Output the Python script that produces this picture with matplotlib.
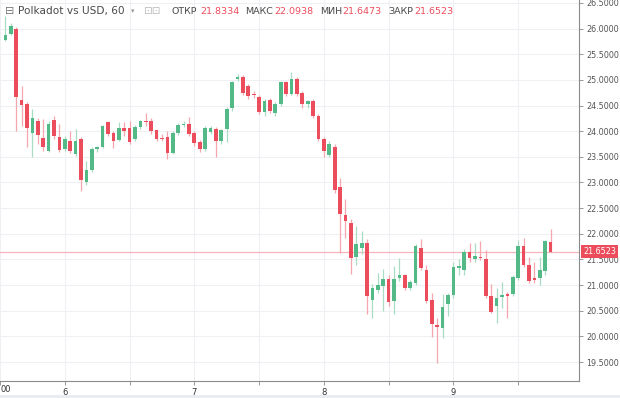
import numpy as np
import matplotlib.pyplot as plt
from matplotlib.patches import Rectangle

# ---------------------------------------------------------------------------
# Hourly candles, DOT/USD (hour offsets from day "6" 00:00)
# ---------------------------------------------------------------------------
hours = list(range(-11, 91))

opens = [25.78, 25.90, 26.00, 24.60, 24.54, 23.97, 24.20, 23.87, 23.62, 24.22,
         23.89, 23.66, 23.81, 23.56, 23.85, 23.00, 23.25, 23.66, 23.70, 24.17,
         23.96, 23.83, 24.07, 24.07, 23.85, 24.09, 24.20, 24.20, 24.02, 23.87,
         23.88, 23.58, 23.96, 24.12, 24.14, 23.96, 23.79, 23.65, 23.99, 24.05,
         23.80, 24.04, 24.46, 25.01, 25.06, 24.89, 24.72, 24.66, 24.37, 24.61,
         24.35, 24.53, 24.95, 24.72, 25.02, 24.74, 24.53, 24.59, 24.30, 23.85,
         23.54, 23.70, 22.91, 22.37, 22.22, 21.55, 21.73, 21.82, 20.70, 20.90,
         20.98, 21.11, 20.68, 21.13, 21.19, 20.94, 21.05, 21.73, 21.29, 20.70,
         20.23, 20.17, 20.64, 20.80, 21.33, 21.29, 21.64, 21.50, 21.55, 21.51,
         20.79, 20.59, 20.77, 20.82, 20.82, 21.14, 21.77, 21.40, 21.13, 21.13,
         21.28, 21.8334]
highs = [26.25, 26.10, 26.03, 24.88, 24.56, 24.44, 24.25, 24.24, 24.20, 24.30,
         24.14, 23.90, 24.00, 24.05, 23.88, 23.42, 23.70, 23.72, 24.12, 24.20,
         24.00, 24.17, 24.17, 24.20, 24.12, 24.22, 24.35, 24.25, 24.05, 23.95,
         24.00, 24.00, 24.16, 24.20, 24.27, 24.00, 23.83, 24.10, 24.10, 24.08,
         24.05, 24.48, 24.97, 25.12, 25.10, 24.92, 24.78, 24.70, 24.62, 24.65,
         24.56, 24.97, 24.98, 25.15, 25.06, 24.78, 24.60, 24.62, 24.33, 23.88,
         23.80, 23.75, 23.08, 22.67, 22.28, 22.15, 22.05, 21.90, 21.02, 21.24,
         21.31, 21.20, 21.37, 21.53, 21.22, 21.10, 21.80, 21.89, 21.40, 20.85,
         20.35, 20.82, 20.85, 21.45, 21.50, 21.70, 21.83, 21.83, 21.86, 21.68,
         21.02, 20.95, 21.06, 20.86, 21.20, 21.88, 21.91, 21.55, 21.45, 21.55,
         21.88, 22.0938]
lows = [25.75, 25.88, 24.00, 24.10, 23.70, 23.50, 23.75, 23.62, 23.60, 23.85,
        23.60, 23.62, 23.58, 23.52, 22.84, 22.95, 23.20, 23.60, 23.68, 23.90,
        23.67, 23.80, 23.90, 23.75, 23.80, 24.05, 24.10, 23.95, 23.80, 23.80,
        23.46, 23.55, 23.92, 24.08, 23.90, 23.72, 23.60, 23.62, 23.95, 23.49,
        23.75, 23.78, 24.40, 24.98, 24.70, 24.62, 24.65, 24.33, 24.30, 24.36,
        24.30, 24.50, 24.68, 24.70, 24.68, 24.45, 24.45, 24.25, 23.80, 23.49,
        23.50, 22.80, 21.63, 21.92, 21.21, 21.40, 21.60, 20.43, 20.36, 20.85,
        20.49, 20.60, 20.43, 21.08, 20.90, 20.90, 21.00, 21.30, 20.65, 19.99,
        19.48, 19.97, 20.40, 20.75, 21.20, 21.20, 21.45, 21.45, 21.48, 20.75,
        20.45, 20.26, 20.55, 20.36, 20.78, 21.10, 21.35, 21.04, 21.05, 21.00,
        21.20, 21.6473]
closes = [25.88, 26.05, 24.66, 24.52, 24.06, 24.26, 23.93, 23.70, 24.14, 23.91,
          23.64, 23.85, 23.62, 23.80, 23.05, 23.25, 23.66, 23.69, 24.10, 23.94,
          23.81, 24.06, 24.00, 23.78, 24.09, 24.19, 24.17, 24.00, 23.85, 23.84,
          23.58, 23.96, 24.12, 24.15, 23.94, 23.77, 23.65, 24.07, 24.07, 23.81,
          24.02, 24.44, 24.95, 25.06, 24.74, 24.68, 24.70, 24.37, 24.59, 24.40,
          24.54, 24.95, 24.72, 25.02, 24.72, 24.54, 24.58, 24.30, 23.85, 23.62,
          23.75, 22.85, 22.39, 22.25, 21.53, 21.80, 21.82, 20.79, 20.95, 21.00,
          21.11, 20.67, 21.11, 21.19, 20.94, 21.06, 21.76, 21.34, 20.69, 20.24,
          20.18, 20.57, 20.80, 21.35, 21.37, 21.65, 21.52, 21.57, 21.52, 20.79,
          20.48, 20.75, 20.80, 20.79, 21.15, 21.77, 21.40, 21.08, 21.09, 21.29,
          21.85, 21.6523]

price_ticks = [19.5, 20.0, 20.5, 21.0, 21.5, 22.0, 22.5, 23.0, 23.5, 24.0,
               24.5, 25.0, 25.5, 26.0, 26.5]
time_ticks = [-12, 0, 12, 24, 36, 48, 60, 72, 84]
time_labels = ["", "6", "", "7", "", "8", "", "9", ""]
edge_label = "00"   # tail of the "12:00" label cut by the left edge

symbol = "Polkadot vs USD, 60"
ohlc_names = ["ОТКР", "МАКС", "МИН", "ЗАКР"]
ohlc_values = ["21.8334", "22.0938", "21.6473", "21.6523"]
last_price = 21.6523

UP, DOWN = "#53b987", "#eb4d5c"
UP_WICK, DOWN_WICK = "#a9dcc3", "#f5a6ae"

# ---------------------------------------------------------------------------
# Plot
# ---------------------------------------------------------------------------
W, H = 620, 398
fig = plt.figure(figsize=(W / 100, H / 100), dpi=100)
fig.patch.set_facecolor("white")
ax = fig.add_axes([0, 17 / H, 579 / W, 381 / H])

x = np.array(hours, dtype=float)
o, h, l, c = map(np.array, (opens, highs, lows, closes))
up = c >= o

ax.vlines(x[up], l[up], h[up], color=UP_WICK, lw=0.9, zorder=2)
ax.vlines(x[~up], l[~up], h[~up], color=DOWN_WICK, lw=0.9, zorder=2)
body_lo = np.minimum(o, c)
body_h = np.maximum(np.abs(c - o), 0.03)
ax.bar(x[up], body_h[up], bottom=body_lo[up], width=0.68, color=UP,
       lw=0, zorder=3)
ax.bar(x[~up], body_h[~up], bottom=body_lo[~up], width=0.68, color=DOWN,
       lw=0, zorder=3)

# last price line
ax.axhline(last_price, color="#f4b4ba", lw=0.9, zorder=1)

ax.set_xlim(-11.63, 95.26)
ax.set_ylim(19.13, 26.558)

ax.set_yticks(price_ticks)
ax.set_yticklabels([f"{v:.4f}" for v in price_ticks])
ax.set_xticks(time_ticks)
ax.set_xticklabels(time_labels)
ax.yaxis.tick_right()
ax.tick_params(axis="y", direction="out", length=3, width=0.6, color="#888888",
               labelsize=5.8, labelcolor="#555555", pad=2)
ax.tick_params(axis="x", direction="out", length=3, width=0.6, color="#888888",
               labelsize=6, labelcolor="#333333", pad=2)

ax.grid(True, color="#eef0f4", lw=0.8, zorder=0)
ax.set_axisbelow(True)
for side in ("left", "top"):
    ax.spines[side].set_visible(False)
for side in ("right", "bottom"):
    ax.spines[side].set_color("#8a8a8a")
    ax.spines[side].set_linewidth(0.8)

fig.text(0.5 / W, 1 - 390 / H, edge_label, fontsize=6, color="#333333",
         ha="left", va="center")

# price tag on the axis
ax.annotate(f"{last_price:.4f}", xy=(1.0, last_price),
            xycoords=("axes fraction", "data"),
            xytext=(3, 0), textcoords="offset points",
            ha="left", va="center", fontsize=5.8, color="white",
            bbox=dict(boxstyle="square,pad=0.25", fc=DOWN, ec="none"),
            annotation_clip=False)

# bottom strip
fig.patches.append(Rectangle((0, 0), 1, 3 / H, transform=fig.transFigure,
                             fc="#e9edf2", ec="none"))

# header
ty = 1 - 11 / H
fig.text(5 / W, ty, "⊟", fontsize=8, color="#777777", va="center")
fig.text(18 / W, ty, symbol, fontsize=7.6, color="#4a4a4a", va="center")
fig.text(131 / W, ty, "▾", fontsize=5, color="#999999", va="center")
fig.text(143 / W, ty, "⊡⊡", fontsize=7.5, color="#bbbbbb", va="center")
name_x = [172, 245, 320, 388]
val_x = [200, 274, 342, 414]
for nx, vx, name, val in zip(name_x, val_x, ohlc_names, ohlc_values):
    fig.text(nx / W, ty, name, fontsize=6.8, color="#4a4a4a", va="center")
    fig.text(vx / W, ty, val, fontsize=6.8, color=DOWN, va="center")

plt.savefig("out.png", dpi=100)
